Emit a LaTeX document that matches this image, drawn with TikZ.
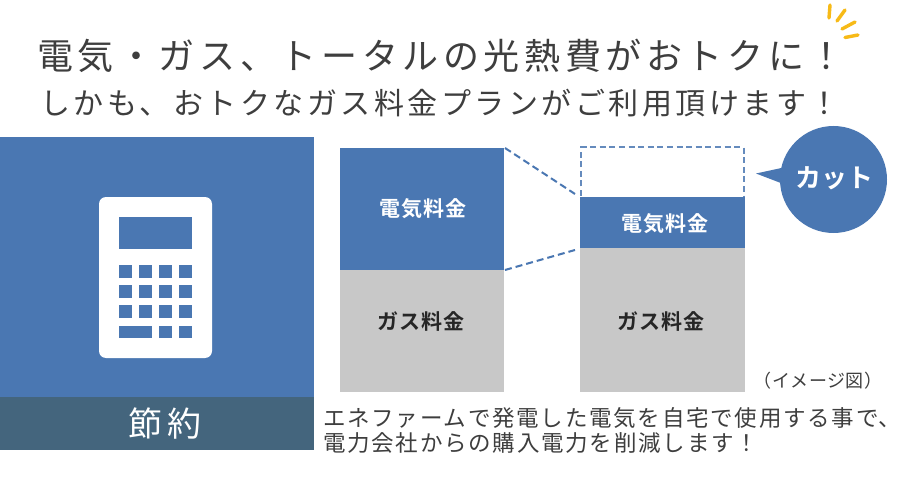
\documentclass[tikz,border=0pt]{standalone}
\usepackage{fontspec}
\setmainfont{Noto Sans CJK JP}
\newfontfamily\cjkA[LetterSpace=12.8]{Noto Sans CJK JP}
\newfontfamily\cjkB[LetterSpace=11.7]{Noto Sans CJK JP}
\newfontfamily\cjkC[LetterSpace=7.8]{Noto Sans CJK JP}
\newfontfamily\cjkBold[LetterSpace=5]{Noto Sans CJK JP Bold}
\newfontfamily\cjkCut[LetterSpace=0]{Noto Sans CJK JP Bold}
\newfontfamily\cjkWide[LetterSpace=14]{Noto Sans CJK JP}
\newfontfamily\cjkImg[LetterSpace=3]{Noto Sans CJK JP}
\definecolor{mainblue}{HTML}{4A77B2}
\definecolor{darkband}{HTML}{44657D}
\definecolor{barGray}{HTML}{C8C8C8}
\definecolor{inkText}{HTML}{3E3E3E}
\definecolor{sparkle}{HTML}{F7BA17}
\begin{document}
\begin{tikzpicture}[x=1pt,y=-1pt,
  titleOne/.style={inner sep=0pt,anchor=base west,text=inkText,font=\cjkA\fontsize{36}{36}\selectfont},
  titleTwo/.style={inner sep=0pt,anchor=base west,text=inkText,font=\cjkB\fontsize{30}{30}\selectfont},
  noteText/.style={inner sep=0pt,anchor=base west,text=inkText,font=\cjkC\fontsize{22.5}{22.5}\selectfont},
  barLabel/.style={inner sep=0pt,font=\cjkBold\fontsize{21}{21}\selectfont},
  cutLine/.style={mainblue,line width=2pt,dash pattern=on 7pt off 4pt},
  boxLine/.style={mainblue!85,line width=2pt,dash pattern=on 6pt off 3.6pt},
  keyHole/.style={fill=mainblue,draw=none},
  ray/.style={sparkle,line width=3.4pt,line cap=round}]
\useasboundingbox (0,0) rectangle (900,500);
\fill[white] (0,0) rectangle (900,500);
% titles
\node[titleOne] (t1) at (37,70) {電気・ガス、トータルの光熱費がおトクに！};
\node[titleTwo] (t2) at (40,115) {しかも、おトクなガス料金プランがご利用頂けます！};
% sparkle
\draw[ray] (830,5) -- (829,18);
\draw[ray] (845,10) -- (837,21);
\draw[ray] (855,22) -- (842,29);
\draw[ray] (858,35) -- (845,37.5);
% left panel
\fill[mainblue] (0,137) rectangle (314,397);
\fill[darkband] (0,397) rectangle (314,450);
\node[inner sep=0pt,text=white,font=\cjkWide\fontsize{34}{34}\selectfont] (saving) at (165,424) {節約};
% calculator
\fill[white,rounded corners=7pt] (99,197) rectangle (212,358);
\fill[keyHole] (119,217) rectangle (192,249);
\foreach \yy in {265,285,305}{
  \foreach \xx in {119,139,159,179}{
    \fill[keyHole] (\xx,\yy) rectangle ++(13,12.5);
  }
}
\fill[keyHole] (119,325.5) rectangle (152,338);
\fill[keyHole] (159,325.5) rectangle ++(13,12.5);
\fill[keyHole] (179,325.5) rectangle ++(13,12.5);
% bars
\fill[mainblue] (340,148) rectangle (504,270);
\fill[barGray] (340,270) rectangle (504,392);
\fill[mainblue] (580,197) rectangle (745,248);
\fill[barGray] (580,248) rectangle (745,392);
\node[barLabel,text=white] (e1) at (423,209) {電気料金};
\node[barLabel,text=black!85] (g1) at (421,321) {ガス料金};
\node[barLabel,text=white] (e2) at (665,224) {電気料金};
\node[barLabel,text=black!85] (g2) at (661,321) {ガス料金};
% dashed
\draw[cutLine] (505,148) -- (575,194);
\draw[cutLine] (505,270) -- (575,250);
\draw[boxLine] (581,196) -- (581,147.5) -- (743.5,147.5) -- (743.5,196);
% callout
\fill[mainblue] (833.5,179.5) circle (53.5);
\fill[mainblue] (756,173.5) -- (786,167) -- (786,185) -- cycle;
\node[inner sep=0pt,text=white,font=\cjkCut\fontsize{26}{26}\selectfont] (cut) at (834.5,178.5) {カット};
% notes
\node[inner sep=0pt,text=inkText,font=\cjkImg\fontsize{18}{18}\selectfont] (img) at (818,381) {（イメージ図）};
\node[noteText] (n1) at (323,426) {エネファームで発電した電気を自宅で使用する事で\rlap{、}};
\node[noteText] (n2) at (323,451) {電力会社からの購入電力を削減します！};
\end{tikzpicture}
\end{document}
